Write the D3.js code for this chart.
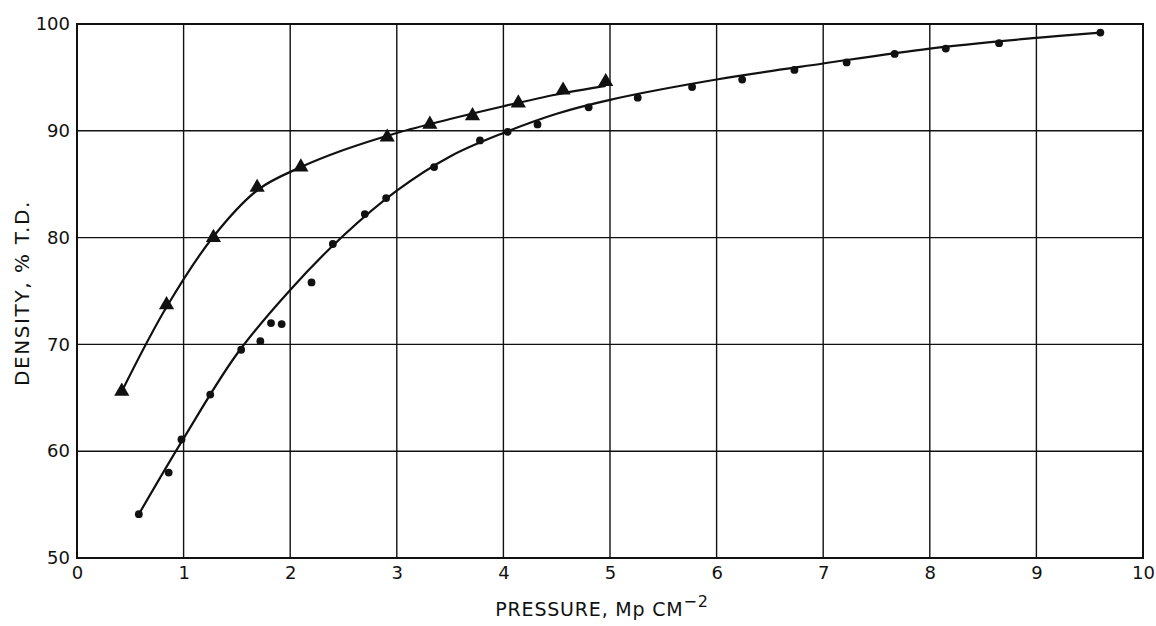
<!DOCTYPE html>
<html>
<head>
<meta charset="utf-8">
<script src="https://cdn.jsdelivr.net/npm/d3@7"></script>
<style>
  html, body { margin: 0; padding: 0; background: #fff; }
  svg { display: block; }
  text { font-family: "DejaVu Sans", "Liberation Sans", sans-serif; fill: #111; }
</style>
</head>
<body>
<svg id="chart" width="1156" height="626"></svg>
<script>
// Data
const xTicks = [0, 1, 2, 3, 4, 5, 6, 7, 8, 9, 10];
const yTicks = [50, 60, 70, 80, 90, 100];
const xTitle = "PRESSURE, Mp CM";
const xTitleSup = "−2";
const yTitle = "DENSITY, % T.D.";

// Triangle series (measured points)
const triX = [0.42, 0.84, 1.28, 1.69, 2.10, 2.91, 3.31, 3.71, 4.14, 4.56, 4.96];
const triY = [65.6, 73.7, 80.0, 84.7, 86.6, 89.4, 90.6, 91.4, 92.6, 93.8, 94.6];

// Circle series (measured points)
const dotX = [0.58, 0.86, 0.98, 1.25, 1.54, 1.72, 1.82, 1.92, 2.20, 2.40, 2.70, 2.90, 3.35, 3.78, 4.04, 4.32, 4.80, 5.26, 5.77, 6.24, 6.73, 7.22, 7.67, 8.15, 8.65, 9.60];
const dotY = [54.1, 58.0, 61.1, 65.3, 69.5, 70.3, 72.0, 71.9, 75.8, 79.4, 82.2, 83.7, 86.6, 89.1, 89.9, 90.6, 92.2, 93.1, 94.1, 94.8, 95.7, 96.4, 97.2, 97.7, 98.2, 99.2];

// Fitted curves
const triCurveX = [0.42, 0.84, 1.28, 1.7, 2.1, 2.5, 3.0, 3.5, 4.0, 4.5, 4.96];
const triCurveY = [65.6, 73.5, 80.1, 84.5, 86.6, 88.2, 89.8, 91.1, 92.3, 93.4, 94.2];
const dotCurveX = [0.58, 1.0, 1.5, 2.0, 2.5, 3.0, 3.5, 4.0, 4.5, 5.0, 6.0, 7.0, 8.0, 9.0, 9.6];
const dotCurveY = [54.1, 61.2, 69.1, 75.1, 80.2, 84.4, 87.6, 89.8, 91.6, 92.9, 94.8, 96.3, 97.7, 98.7, 99.2];

(function () {
const svg = d3.select("#chart");
const pL = 77, pR = 1143, pT = 24, pB = 558;

const x = d3.scaleLinear().domain([0, 10]).range([pL, pR]);
const y = d3.scaleLinear().domain([50, 100]).range([pB, pT]);

// Grid
const g = svg.append("g");
g.selectAll("line.vg").data(xTicks.slice(1, -1)).enter().append("line")
  .attr("x1", d => x(d)).attr("x2", d => x(d))
  .attr("y1", pT).attr("y2", pB)
  .attr("stroke", "#111").attr("stroke-width", 1.4);
g.selectAll("line.hg").data(yTicks.slice(1, -1)).enter().append("line")
  .attr("x1", pL).attr("x2", pR)
  .attr("y1", d => y(d)).attr("y2", d => y(d))
  .attr("stroke", "#111").attr("stroke-width", 1.4);

// Frame
svg.append("rect")
  .attr("x", pL).attr("y", pT)
  .attr("width", pR - pL).attr("height", pB - pT)
  .attr("fill", "none").attr("stroke", "#111").attr("stroke-width", 2);

// Axes (labels only)
const xAxis = d3.axisBottom(x).tickValues(xTicks).tickSize(0).tickPadding(8).tickFormat(d3.format("d"));
const xg = svg.append("g").attr("transform", `translate(0,${pB})`).call(xAxis);
xg.select(".domain").remove();
xg.selectAll("text").style("font-size", "18px").attr("fill", "#111");

const yAxis = d3.axisLeft(y).tickValues(yTicks).tickSize(0).tickPadding(7).tickFormat(d3.format("d"));
const yg = svg.append("g").attr("transform", `translate(${pL},0)`).call(yAxis);
yg.select(".domain").remove();
yg.selectAll("text").style("font-size", "18px").attr("fill", "#111");

// Titles
const xt = svg.append("text")
  .attr("x", 602).attr("y", 616)
  .attr("text-anchor", "middle")
  .style("font-size", "19px")
  .style("letter-spacing", "0.8px");
xt.append("tspan").text(xTitle);
xt.append("tspan").attr("dy", -9).style("font-size", "16px").text(xTitleSup);

svg.append("text")
  .attr("transform", `translate(29,${293}) rotate(-90)`)
  .attr("text-anchor", "middle")
  .style("font-size", "20px")
  .style("letter-spacing", "1.6px")
  .text(yTitle);

// Curves
const line = d3.line().x(d => x(d[0])).y(d => y(d[1])).curve(d3.curveCatmullRom.alpha(0.5));
svg.append("path")
  .datum(triCurveX.map((v, i) => [v, triCurveY[i]]))
  .attr("d", line).attr("fill", "none").attr("stroke", "#111").attr("stroke-width", 2.2);
svg.append("path")
  .datum(dotCurveX.map((v, i) => [v, dotCurveY[i]]))
  .attr("d", line).attr("fill", "none").attr("stroke", "#111").attr("stroke-width", 2.2);

// Markers
const tri = d3.symbol().type(d3.symbolTriangle).size(100);
svg.selectAll("path.tri").data(triX.map((v, i) => [v, triY[i]])).enter().append("path")
  .attr("d", tri)
  .attr("transform", d => `translate(${x(d[0])},${y(d[1])})`)
  .attr("fill", "#111");

svg.selectAll("circle.dot").data(dotX.map((v, i) => [v, dotY[i]])).enter().append("circle")
  .attr("cx", d => x(d[0])).attr("cy", d => y(d[1])).attr("r", 3.9)
  .attr("fill", "#111");
})();
</script>
</body>
</html>
